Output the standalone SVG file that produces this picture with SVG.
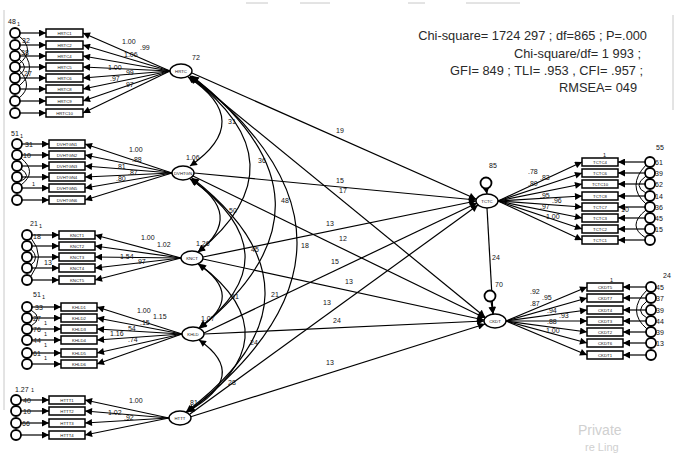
<svg xmlns="http://www.w3.org/2000/svg" width="680" height="466" viewBox="0 0 680 466">
<defs>
<marker id="ah" viewBox="0 0 10 10" refX="10" refY="5" markerWidth="10" markerHeight="7" markerUnits="userSpaceOnUse" orient="auto-start-reverse"><path d="M0,0L10,5L0,10z" fill="#000"/></marker>
<style>
.bx{fill:#fff;stroke:#000;stroke-width:1.5}
.lt{fill:#fff;stroke:#000;stroke-width:1.4}
.er{fill:#fff;stroke:#000;stroke-width:1.8}
#conn line,#conn path{stroke:#000;stroke-width:1.2;fill:none;marker-end:url(#ah)}
#conn path.cv{marker-start:url(#ah)}
#conn path.ce{marker-end:none;stroke-width:1}
text{font-family:"Liberation Sans",Arial,sans-serif;fill:#111}
.n{font-size:7px}
.s{font-size:5.5px}
.b{font-size:4.3px;text-anchor:middle}
.fit{font-size:12.8px;text-anchor:end;fill:#2a2a2a}
.wm{fill:#d0d0d0}
</style>
</defs>
<rect width="680" height="466" fill="#fff"/>
<g id="scan" stroke="#c8c8c8" stroke-width="1">
<line x1="4" y1="10" x2="4" y2="410"/>
<line x1="673" y1="15" x2="673" y2="110"/>
<line x1="246" y1="3" x2="268" y2="3"/>
<line x1="300" y1="3" x2="330" y2="3"/>
<line x1="408" y1="3" x2="425" y2="3"/>
<line x1="466" y1="3" x2="520" y2="3"/>
</g>
<g id="conn">
<line x1="170" y1="71" x2="83" y2="33"/><line x1="170" y1="71" x2="83" y2="45"/><line x1="170" y1="71" x2="83" y2="56"/><line x1="170" y1="71" x2="83" y2="67"/><line x1="170" y1="71" x2="83" y2="78"/><line x1="170" y1="71" x2="83" y2="89"/><line x1="170" y1="71" x2="83" y2="101"/><line x1="170" y1="71" x2="83" y2="113"/>
<line x1="20" y1="33" x2="46" y2="33"/><line x1="20" y1="45" x2="46" y2="45"/><line x1="20" y1="56" x2="46" y2="56"/><line x1="20" y1="67" x2="46" y2="67"/><line x1="20" y1="78" x2="46" y2="78"/><line x1="20" y1="89" x2="46" y2="89"/><line x1="20" y1="101" x2="46" y2="101"/><line x1="20" y1="113" x2="46" y2="113"/>
<path class="ce" d="M19,36 Q36,50 19,64"/><path class="ce" d="M19,48 Q40,68 19,86"/><path class="ce" d="M19,70 Q34,86 19,98"/><path class="ce" d="M19,59 Q30,68 19,75"/>
<line x1="172" y1="173" x2="85" y2="144"/><line x1="172" y1="173" x2="85" y2="155"/><line x1="172" y1="173" x2="85" y2="166"/><line x1="172" y1="173" x2="85" y2="177"/><line x1="172" y1="173" x2="85" y2="188"/><line x1="172" y1="173" x2="85" y2="200"/>
<line x1="22" y1="144" x2="49" y2="144"/><line x1="22" y1="155" x2="49" y2="155"/><line x1="22" y1="166" x2="49" y2="166"/><line x1="22" y1="177" x2="49" y2="177"/><line x1="22" y1="188" x2="49" y2="188"/><line x1="22" y1="200" x2="49" y2="200"/>
<path class="ce" d="M21,158 Q38,172 21,185"/><path class="ce" d="M21,169 Q32,176 21,181"/>
<line x1="181" y1="258" x2="95" y2="235"/><line x1="181" y1="258" x2="95" y2="246"/><line x1="181" y1="258" x2="95" y2="257"/><line x1="181" y1="258" x2="95" y2="268"/><line x1="181" y1="258" x2="95" y2="280"/>
<line x1="32" y1="235" x2="59" y2="235"/><line x1="32" y1="246" x2="59" y2="246"/><line x1="32" y1="257" x2="59" y2="257"/><line x1="32" y1="268" x2="59" y2="268"/><line x1="32" y1="280" x2="59" y2="280"/>
<path class="ce" d="M31,238 Q46,256 31,276"/><path class="ce" d="M31,249 Q40,258 31,265"/>
<line x1="182" y1="334" x2="97" y2="307"/><line x1="182" y1="334" x2="97" y2="318"/><line x1="182" y1="334" x2="97" y2="329"/><line x1="182" y1="334" x2="97" y2="340"/><line x1="182" y1="334" x2="97" y2="353"/><line x1="182" y1="334" x2="97" y2="364"/>
<line x1="32" y1="307" x2="61" y2="307"/><line x1="32" y1="318" x2="61" y2="318"/><line x1="32" y1="329" x2="61" y2="329"/><line x1="32" y1="340" x2="61" y2="340"/><line x1="32" y1="353" x2="61" y2="353"/><line x1="32" y1="364" x2="61" y2="364"/>
<path class="ce" d="M31,310 Q44,318 31,326"/>
<line x1="169" y1="418" x2="85" y2="400"/><line x1="169" y1="418" x2="85" y2="411"/><line x1="169" y1="418" x2="85" y2="423"/><line x1="169" y1="418" x2="85" y2="435"/>
<line x1="21" y1="400" x2="49" y2="400"/><line x1="21" y1="411" x2="49" y2="411"/><line x1="21" y1="423" x2="49" y2="423"/><line x1="21" y1="435" x2="49" y2="435"/>
<path class="cv" d="M188,77 Q255,121 190,166"/>
<path class="cv" d="M190,77 Q306,164 198,252"/>
<path class="cv" d="M191,76 Q355,202 200,328"/>
<path class="cv" d="M192,76 Q404,244 188,412"/>
<path class="cv" d="M190,179 Q246,215 198,252"/>
<path class="cv" d="M191,179 Q295,255 199,328"/>
<path class="cv" d="M192,178 Q341,295 186,412"/>
<path class="cv" d="M198,264 Q246,296 199,328"/>
<path class="cv" d="M199,264 Q297,338 187,412"/>
<path class="cv" d="M199,340 Q251,376 187,412"/>
<line x1="192" y1="73" x2="476" y2="199"/>
<line x1="190" y1="76" x2="485" y2="317"/>
<line x1="194" y1="173" x2="476" y2="200"/>
<line x1="193" y1="176" x2="485" y2="318"/>
<line x1="203" y1="257" x2="476" y2="201"/>
<line x1="203" y1="259" x2="484" y2="320"/>
<line x1="204" y1="333" x2="477" y2="203"/>
<line x1="204" y1="334" x2="484" y2="321"/>
<line x1="190" y1="414" x2="478" y2="205"/>
<line x1="190" y1="417" x2="485" y2="324"/>
<line x1="487" y1="208" x2="493" y2="314"/>
<line x1="486" y1="188" x2="487" y2="194"/>
<line x1="491" y1="301" x2="493" y2="314"/>
<line x1="498" y1="201" x2="582" y2="162"/><line x1="498" y1="201" x2="582" y2="173"/><line x1="498" y1="201" x2="582" y2="184"/><line x1="498" y1="201" x2="582" y2="196"/><line x1="498" y1="201" x2="582" y2="207"/><line x1="498" y1="201" x2="582" y2="218"/><line x1="498" y1="201" x2="582" y2="229"/><line x1="498" y1="201" x2="582" y2="240"/>
<line x1="645" y1="162" x2="618" y2="162"/><line x1="645" y1="173" x2="618" y2="173"/><line x1="645" y1="184" x2="618" y2="184"/><line x1="645" y1="196" x2="618" y2="196"/><line x1="645" y1="207" x2="618" y2="207"/><line x1="645" y1="218" x2="618" y2="218"/><line x1="645" y1="229" x2="618" y2="229"/><line x1="645" y1="240" x2="618" y2="240"/>
<path class="ce" d="M646,165 Q626,186 646,204"/><path class="ce" d="M646,176 Q632,186 646,193"/><path class="ce" d="M646,210 Q626,226 646,238"/>
<line x1="506" y1="321" x2="587" y2="287"/><line x1="506" y1="321" x2="587" y2="298"/><line x1="506" y1="321" x2="587" y2="310"/><line x1="506" y1="321" x2="587" y2="321"/><line x1="506" y1="321" x2="587" y2="332"/><line x1="506" y1="321" x2="587" y2="343"/><line x1="506" y1="321" x2="587" y2="355"/>
<line x1="646" y1="287" x2="623" y2="287"/><line x1="646" y1="298" x2="623" y2="298"/><line x1="646" y1="310" x2="623" y2="310"/><line x1="646" y1="321" x2="623" y2="321"/><line x1="646" y1="332" x2="623" y2="332"/><line x1="646" y1="343" x2="623" y2="343"/><line x1="646" y1="355" x2="623" y2="355"/>
<path class="ce" d="M647,290 Q626,311 647,329"/><path class="ce" d="M647,301 Q634,311 647,318"/>
</g>

<g id="HRTC"><ellipse class="lt" cx="181" cy="71" rx="11" ry="7"/><text class="b" x="181" y="72.5">HRTC</text></g>
<g id="HRTC1"><rect class="bx" x="46" y="29" width="37" height="8"/><text class="b" x="64.5" y="34.5">HRTC1</text></g>
<g id="HRTC2"><rect class="bx" x="46" y="41" width="37" height="8"/><text class="b" x="64.5" y="46.5">HRTC2</text></g>
<g id="HRTC4"><rect class="bx" x="46" y="52" width="37" height="8"/><text class="b" x="64.5" y="57.5">HRTC4</text></g>
<g id="HRTC5"><rect class="bx" x="46" y="63" width="37" height="8"/><text class="b" x="64.5" y="68.5">HRTC5</text></g>
<g id="HRTC6"><rect class="bx" x="46" y="74" width="37" height="8"/><text class="b" x="64.5" y="79.5">HRTC6</text></g>
<g id="HRTC8"><rect class="bx" x="46" y="85" width="37" height="8"/><text class="b" x="64.5" y="90.5">HRTC8</text></g>
<g id="HRTC9"><rect class="bx" x="46" y="97" width="37" height="8"/><text class="b" x="64.5" y="102.5">HRTC9</text></g>
<g id="HRTC10"><rect class="bx" x="46" y="109" width="37" height="8"/><text class="b" x="64.5" y="114.5">HRTC10</text></g>
<g id="e1-8"><circle class="er" cx="15" cy="33" r="5"/><circle class="er" cx="15" cy="45" r="5"/><circle class="er" cx="15" cy="56" r="5"/><circle class="er" cx="15" cy="67" r="5"/><circle class="er" cx="15" cy="78" r="5"/><circle class="er" cx="15" cy="89" r="5"/><circle class="er" cx="15" cy="101" r="5"/><circle class="er" cx="15" cy="113" r="5"/></g>

<g id="DVHTGN"><ellipse class="lt" cx="183" cy="173" rx="11" ry="7"/><text class="b" x="183" y="174.5">DVHTGN</text></g>
<g id="DVHTGN1"><rect class="bx" x="49" y="140" width="36" height="8"/><text class="b" x="67" y="145.5">DVHTGN1</text></g>
<g id="DVHTGN2"><rect class="bx" x="49" y="151" width="36" height="8"/><text class="b" x="67" y="156.5">DVHTGN2</text></g>
<g id="DVHTGN3"><rect class="bx" x="49" y="162" width="36" height="8"/><text class="b" x="67" y="167.5">DVHTGN3</text></g>
<g id="DVHTGN4"><rect class="bx" x="49" y="173" width="36" height="8"/><text class="b" x="67" y="178.5">DVHTGN4</text></g>
<g id="DVHTGN5"><rect class="bx" x="49" y="184" width="36" height="8"/><text class="b" x="67" y="189.5">DVHTGN5</text></g>
<g id="DVHTGN6"><rect class="bx" x="49" y="196" width="36" height="8"/><text class="b" x="67" y="201.5">DVHTGN6</text></g>
<g id="e9-14"><circle class="er" cx="17" cy="144" r="5"/><circle class="er" cx="17" cy="155" r="5"/><circle class="er" cx="17" cy="166" r="5"/><circle class="er" cx="17" cy="177" r="5"/><circle class="er" cx="17" cy="188" r="5"/><circle class="er" cx="17" cy="200" r="5"/></g>

<g id="KNCT"><ellipse class="lt" cx="192" cy="258" rx="11" ry="7"/><text class="b" x="192" y="259.5">KNCT</text></g>
<g id="KNCT1"><rect class="bx" x="59" y="231" width="36" height="8"/><text class="b" x="77" y="236.5">KNCT1</text></g>
<g id="KNCT2"><rect class="bx" x="59" y="242" width="36" height="8"/><text class="b" x="77" y="247.5">KNCT2</text></g>
<g id="KNCT3"><rect class="bx" x="59" y="253" width="36" height="8"/><text class="b" x="77" y="258.5">KNCT3</text></g>
<g id="KNCT4"><rect class="bx" x="59" y="264" width="36" height="8"/><text class="b" x="77" y="269.5">KNCT4</text></g>
<g id="KNCT5"><rect class="bx" x="59" y="276" width="36" height="8"/><text class="b" x="77" y="281.5">KNCT5</text></g>
<g id="e15-19"><circle class="er" cx="27" cy="235" r="5"/><circle class="er" cx="27" cy="246" r="5"/><circle class="er" cx="27" cy="257" r="5"/><circle class="er" cx="27" cy="268" r="5"/><circle class="er" cx="27" cy="280" r="5"/></g>

<g id="KHLD"><ellipse class="lt" cx="193" cy="334" rx="11" ry="7"/><text class="b" x="193" y="335.5">KHLD</text></g>
<g id="KHLD1"><rect class="bx" x="61" y="303" width="36" height="8"/><text class="b" x="79" y="308.5">KHLD1</text></g>
<g id="KHLD2"><rect class="bx" x="61" y="314" width="36" height="8"/><text class="b" x="79" y="319.5">KHLD2</text></g>
<g id="KHLD3"><rect class="bx" x="61" y="325" width="36" height="8"/><text class="b" x="79" y="330.5">KHLD3</text></g>
<g id="KHLD4"><rect class="bx" x="61" y="336" width="36" height="8"/><text class="b" x="79" y="341.5">KHLD4</text></g>
<g id="KHLD5"><rect class="bx" x="61" y="349" width="36" height="8"/><text class="b" x="79" y="354.5">KHLD5</text></g>
<g id="KHLD6"><rect class="bx" x="61" y="360" width="36" height="8"/><text class="b" x="79" y="365.5">KHLD6</text></g>
<g id="e20-25"><circle class="er" cx="27" cy="307" r="5"/><circle class="er" cx="27" cy="318" r="5"/><circle class="er" cx="27" cy="329" r="5"/><circle class="er" cx="27" cy="340" r="5"/><circle class="er" cx="27" cy="353" r="5"/><circle class="er" cx="27" cy="364" r="5"/></g>

<g id="HTTT"><ellipse class="lt" cx="180" cy="418" rx="11" ry="7"/><text class="b" x="180" y="419.5">HTTT</text></g>
<g id="HTTT1"><rect class="bx" x="49" y="396" width="36" height="8"/><text class="b" x="67" y="401.5">HTTT1</text></g>
<g id="HTTT2"><rect class="bx" x="49" y="407" width="36" height="8"/><text class="b" x="67" y="412.5">HTTT2</text></g>
<g id="HTTT3"><rect class="bx" x="49" y="419" width="36" height="8"/><text class="b" x="67" y="424.5">HTTT3</text></g>
<g id="HTTT4"><rect class="bx" x="49" y="431" width="36" height="8"/><text class="b" x="67" y="436.5">HTTT4</text></g>
<g id="e26-29"><circle class="er" cx="16" cy="400" r="5"/><circle class="er" cx="16" cy="411" r="5"/><circle class="er" cx="16" cy="423" r="5"/><circle class="er" cx="16" cy="435" r="5"/></g>

<g id="TCTC"><ellipse class="lt" cx="487" cy="201" rx="11" ry="7"/><text class="b" x="487" y="202.5">TCTC</text></g>
<g id="rTCTC"><circle class="er" cx="486" cy="183" r="5.5"/></g>
<g id="TCTC4"><rect class="bx" x="582" y="158" width="36" height="8"/><text class="b" x="600" y="163.5">TCTC4</text></g>
<g id="TCTC6"><rect class="bx" x="582" y="169" width="36" height="8"/><text class="b" x="600" y="174.5">TCTC6</text></g>
<g id="TCTC10"><rect class="bx" x="582" y="180" width="36" height="8"/><text class="b" x="600" y="185.5">TCTC10</text></g>
<g id="TCTC8"><rect class="bx" x="582" y="192" width="36" height="8"/><text class="b" x="600" y="197.5">TCTC8</text></g>
<g id="TCTC7"><rect class="bx" x="582" y="203" width="36" height="8"/><text class="b" x="600" y="208.5">TCTC7</text></g>
<g id="TCTC3"><rect class="bx" x="582" y="214" width="36" height="8"/><text class="b" x="600" y="219.5">TCTC3</text></g>
<g id="TCTC2"><rect class="bx" x="582" y="225" width="36" height="8"/><text class="b" x="600" y="230.5">TCTC2</text></g>
<g id="TCTC1"><rect class="bx" x="582" y="236" width="36" height="8"/><text class="b" x="600" y="241.5">TCTC1</text></g>
<g id="e30-37"><circle class="er" cx="650" cy="162" r="5"/><circle class="er" cx="650" cy="173" r="5"/><circle class="er" cx="650" cy="184" r="5"/><circle class="er" cx="650" cy="196" r="5"/><circle class="er" cx="650" cy="207" r="5"/><circle class="er" cx="650" cy="218" r="5"/><circle class="er" cx="650" cy="229" r="5"/><circle class="er" cx="650" cy="240" r="5"/></g>

<g id="CKDT"><ellipse class="lt" cx="495" cy="321" rx="11" ry="7"/><text class="b" x="495" y="322.5">CKDT</text></g>
<g id="rCKDT"><circle class="er" cx="490" cy="296" r="5.5"/></g>
<g id="CKDT5"><rect class="bx" x="587" y="283" width="36" height="8"/><text class="b" x="605" y="288.5">CKDT5</text></g>
<g id="CKDT7"><rect class="bx" x="587" y="294" width="36" height="8"/><text class="b" x="605" y="299.5">CKDT7</text></g>
<g id="CKDT4"><rect class="bx" x="587" y="306" width="36" height="8"/><text class="b" x="605" y="311.5">CKDT4</text></g>
<g id="CKDT3"><rect class="bx" x="587" y="317" width="36" height="8"/><text class="b" x="605" y="322.5">CKDT3</text></g>
<g id="CKDT2"><rect class="bx" x="587" y="328" width="36" height="8"/><text class="b" x="605" y="333.5">CKDT2</text></g>
<g id="CKDT6"><rect class="bx" x="587" y="339" width="36" height="8"/><text class="b" x="605" y="344.5">CKDT6</text></g>
<g id="CKDT1"><rect class="bx" x="587" y="351" width="36" height="8"/><text class="b" x="605" y="356.5">CKDT1</text></g>
<g id="e38-44"><circle class="er" cx="651" cy="287" r="5"/><circle class="er" cx="651" cy="298" r="5"/><circle class="er" cx="651" cy="310" r="5"/><circle class="er" cx="651" cy="321" r="5"/><circle class="er" cx="651" cy="332" r="5"/><circle class="er" cx="651" cy="343" r="5"/><circle class="er" cx="651" cy="355" r="5"/></g>

<g id="labels" class="n">
<text x="8" y="24">48</text><text class="s" x="17" y="26">1</text>
<text x="22" y="43">32</text><text x="21" y="55">38</text><text x="24" y="76">27</text>
<text x="122" y="44">1.00</text><text x="140" y="50">.99</text><text x="124" y="57">1.06</text>
<text x="108" y="70">1.00</text><text x="124" y="75">.99</text><text x="110" y="81">.97</text><text x="124" y="87">.97</text>
<text x="192" y="60">72</text>
<text x="11" y="136">51</text><text class="s" x="20" y="138">1</text>
<text x="25" y="147">31</text><text x="23" y="158">10</text><text class="s" x="32" y="186">1</text>
<text x="129" y="152">1.00</text><text x="132" y="162">.88</text><text x="116" y="169">.81</text><text x="128" y="175">.87</text><text x="116" y="181">.80</text>
<text x="186" y="160">1.06</text>
<text x="30" y="226">21</text><text class="s" x="39" y="228">1</text>
<text x="33" y="239">18</text><text x="44" y="265">13</text>
<text x="141" y="240">1.00</text><text x="157" y="247">1.02</text><text x="120" y="259">1.54</text><text x="136" y="264">.97</text>
<text x="196" y="246">1.26</text>
<text x="33" y="297">51</text><text class="s" x="42" y="299">1</text>
<text x="35" y="310">33</text><text x="33" y="321">27</text><text x="33" y="332">76</text><text x="33" y="343">44</text><text x="33" y="356">61</text>
<text class="s" x="44" y="325">1</text><text class="s" x="44" y="336">1</text><text class="s" x="44" y="347">1</text><text class="s" x="44" y="360">1</text>
<text x="137" y="313">1.00</text><text x="153" y="319">1.15</text><text x="140" y="325">.15</text><text x="126" y="331">.54</text><text x="110" y="336">1.16</text><text x="128" y="342">.74</text>
<text x="201" y="321">1.07</text>
<text x="15" y="392">1.27</text><text class="s" x="31" y="392">1</text>
<text x="23" y="403">40</text><text x="23" y="414">10</text><text x="22" y="426">66</text>
<text x="129" y="403">1.00</text><text x="108" y="415">1.02</text><text x="124" y="420">.92</text>
<text x="190" y="405">81</text>
<text x="228" y="124">31</text><text x="258" y="163">36</text><text x="281" y="203">48</text><text x="301" y="248">18</text>
<text x="229" y="213">50</text><text x="251" y="252">45</text><text x="271" y="297">21</text><text x="231" y="299">61</text>
<text x="250" y="345">24</text><text x="228" y="385">28</text>
<text x="336" y="133">19</text><text x="336" y="183">15</text><text x="339" y="193">17</text>
<text x="326" y="226">13</text><text x="339" y="241">12</text><text x="331" y="264">15</text><text x="345" y="284">13</text>
<text x="323" y="305">13</text><text x="333" y="323">24</text><text x="326" y="365">13</text>
<text x="489" y="168">85</text><text x="492" y="260">24</text><text x="495" y="287">70</text>
<text x="528" y="174">.78</text><text x="540" y="180">.83</text><text x="528" y="186">.80</text>
<text x="540" y="198">.95</text><text x="552" y="203">.96</text><text x="540" y="209">.97</text><text x="546" y="219">1.00</text>
<text x="656" y="150">55</text><text class="s" x="603" y="157">1</text>
<text x="655" y="165">61</text><text x="655" y="176">39</text><text x="655" y="187">62</text><text x="655" y="199">14</text><text x="655" y="210">36</text><text x="655" y="221">45</text><text x="655" y="232">15</text>
<text x="621" y="212">10</text>
<text x="530" y="294">.92</text><text x="542" y="300">.95</text><text x="530" y="306">.87</text>
<text x="547" y="313">.94</text><text x="559" y="318">.93</text><text x="547" y="324">.88</text><text x="546" y="333">1.00</text>
<text x="663" y="278">24</text><text class="s" x="610" y="282">1</text>
<text x="656" y="290">45</text><text x="656" y="301">37</text><text x="656" y="313">39</text><text x="656" y="324">44</text><text x="656" y="335">39</text><text x="656" y="346">13</text>
</g>

<g id="fit">
<text class="fit" x="647" y="39.5">Chi-square= 1724 297 ; df=865 ; P=.000</text>
<text class="fit" x="641" y="57.5">Chi-square/df= 1 993 ;</text>
<text class="fit" x="643" y="75">GFI= 849 ; TLI= .953 , CFI= .957 ;</text>
<text class="fit" x="637" y="92">RMSEA= 049</text>
</g>
<g id="watermark">
<text class="wm" x="578" y="435" font-size="14">Private</text>
<text class="wm" x="585" y="451" font-size="11">re Ling</text>
</g>
</svg>
